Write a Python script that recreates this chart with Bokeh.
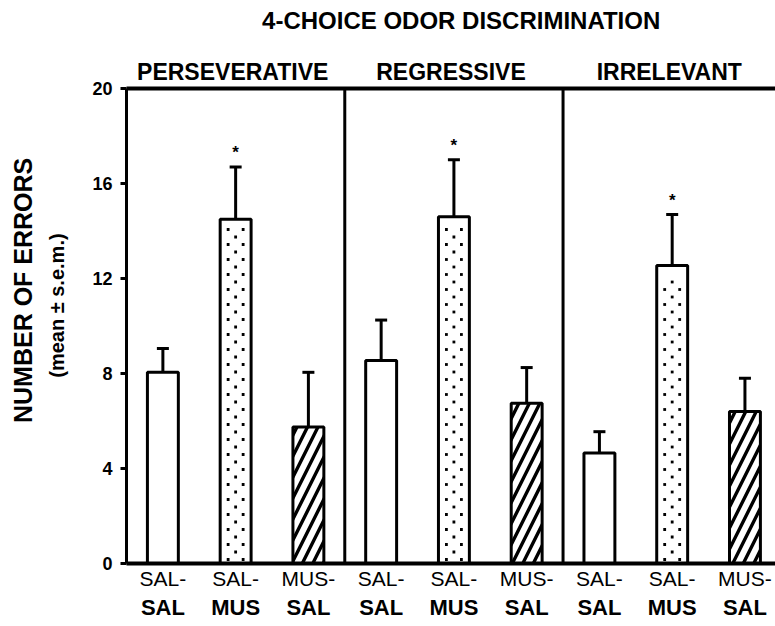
import math
from bokeh.plotting import figure
from bokeh.models import (ColumnDataSource, Range1d, LinearAxis, FixedTicker,
                          Span, Whisker, TeeHead)
from bokeh.embed import file_html
from bokeh.resources import INLINE
from bokeh.core.properties import value

# ---------------- data ----------------
title_text = "4-CHOICE ODOR DISCRIMINATION"
panels = ["PERSEVERATIVE", "REGRESSIVE", "IRRELEVANT"]
groups_top = ["SAL-", "SAL-", "MUS-"]
groups_bottom = ["SAL", "MUS", "SAL"]
perseverative_mean = [8.05, 14.5, 5.75]
perseverative_sem = [1.0, 2.2, 2.3]
regressive_mean = [8.55, 14.6, 6.75]
regressive_sem = [1.7, 2.4, 1.5]
irrelevant_mean = [4.65, 12.55, 6.4]
irrelevant_sem = [0.9, 2.15, 1.4]
significant = [False, True, False]
y_ticks = [0, 4, 8, 12, 16, 20]
y_label = "NUMBER OF ERRORS"
y_sublabel = "(mean \u00b1 s.e.m.)"

means = [perseverative_mean, regressive_mean, irrelevant_mean]
sems = [perseverative_sem, regressive_sem, irrelevant_sem]

FONT = "Liberation Sans"
n_groups = len(groups_top)

group_src = []
all_x, top_labels, bottom_labels = [], [], []
star_x, star_y = [], []
wx, wu, wl = [], [], []
for g in range(n_groups):
    xs, tops = [], []
    for pi in range(len(panels)):
        x = pi * n_groups + g + 0.5
        m = means[pi][g]
        s = sems[pi][g]
        xs.append(x)
        tops.append(m)
        wx.append(x); wu.append(m + s); wl.append(m - s)
        if significant[g]:
            star_x.append(x); star_y.append(m + s + 0.2)
    group_src.append(ColumnDataSource(dict(x=xs, top=tops)))
for pi in range(len(panels)):
    for g in range(n_groups):
        all_x.append(pi * n_groups + g + 0.5)
        top_labels.append(groups_top[g])
        bottom_labels.append(groups_bottom[g])
panel_centers = [pi * n_groups + n_groups / 2 - 0.04 for pi in range(len(panels))]

X_MAX, Y_MAX = 8.92, 20
FRAME_W, FRAME_H = 649, 475

p = figure(frame_width=FRAME_W, frame_height=FRAME_H,
           x_range=Range1d(0, X_MAX), y_range=Range1d(0, Y_MAX),
           output_backend="svg", toolbar_location=None,
           min_border_left=126, min_border_top=88, min_border_right=0,
           min_border_bottom=10)
p.title = None
p.outline_line_color = None
p.grid.visible = False
p.background_fill_color = "white"
p.border_fill_color = "white"

bar_w = 0.425
styles = [dict(), dict(),
          dict(hatch_pattern="right_diagonal_line", hatch_scale=21, hatch_weight=3.4,
               hatch_color="black")]
for g in range(n_groups):
    p.vbar(x="x", top="top", width=bar_w, bottom=0, source=group_src[g],
           fill_color="white", line_color="black", line_width=3, **styles[g])

# stippled texture for the SAL-MUS bars (staggered small dots, 7.5 px apart)
ppx, ppy = FRAME_W / X_MAX, FRAME_H / Y_MAX
step = 7.5
dot_x, dot_y = [], []
for bx, btop in zip(group_src[1].data["x"], group_src[1].data["top"]):
    k = 0
    yy = 4.0 / ppy
    while yy < btop - 10.0 / ppy:
        offs = [-step, step] if k % 2 == 0 else [0.0]
        for o in offs:
            dot_x.append(bx + o / ppx)
            dot_y.append(yy)
        yy += step / ppy
        k += 1
p.scatter(dot_x, dot_y, marker="square", size=2.8, fill_color="black",
          line_color=None)

wsrc = ColumnDataSource(dict(x=wx, upper=wu, lower=wl))
p.add_layout(Whisker(source=wsrc, base="x", upper="upper", lower="lower",
                     line_width=3, line_color="black",
                     upper_head=TeeHead(size=12, line_width=3, line_color="black"),
                     lower_head=TeeHead(size=12, line_width=3, line_color="black")))

p.text(x=star_x, y=star_y, text=["*"] * len(star_x), text_align="center",
       text_baseline="bottom", text_font=value(FONT), text_font_size="17px",
       text_font_style="bold", text_color="black")

for pi in range(1, len(panels)):
    p.add_layout(Span(location=pi * n_groups, dimension="height", line_width=3,
                      line_color="black"))


def label_axis(cls_kwargs, ticks, labels, size, bold, standoff, orientation=None):
    ax = LinearAxis(ticker=FixedTicker(ticks=ticks),
                    major_label_overrides={t: s for t, s in zip(ticks, labels)},
                    **cls_kwargs)
    ax.axis_line_color = None
    ax.major_tick_line_color = None
    ax.minor_tick_line_color = None
    ax.major_tick_out = 0
    ax.major_tick_in = 0
    ax.major_label_text_font = FONT
    ax.major_label_text_color = "black"
    ax.major_label_text_font_style = "bold" if bold else "normal"
    ax.major_label_text_font_size = size
    ax.major_label_standoff = standoff
    if orientation is not None:
        ax.major_label_orientation = orientation
    return ax


# y axis
ya = p.yaxis[0]
ya.ticker = FixedTicker(ticks=y_ticks)
ya.axis_line_width = 3
ya.axis_line_color = "black"
ya.major_tick_line_width = 3
ya.major_tick_line_color = "black"
ya.major_tick_out = 6
ya.major_tick_in = 0
ya.minor_tick_line_color = None
ya.major_label_text_font = FONT
ya.major_label_text_color = "black"
ya.major_label_text_font_style = "bold"
ya.major_label_text_font_size = "18px"
ya.major_label_standoff = 8

# y axis titles (two lines, as label-only axes)
p.add_layout(label_axis({}, [10.86], [y_sublabel], "20px", True, 21, "vertical"), "left")
p.add_layout(label_axis({}, [11.5], [y_label], "25px", True, 7, "vertical"), "left")

# x axes (two lines of labels)
xa = p.xaxis[0]
xa.ticker = FixedTicker(ticks=all_x)
xa.major_label_overrides = {x: t for x, t in zip(all_x, top_labels)}
xa.axis_line_width = 4
xa.axis_line_color = "black"
xa.major_tick_out = 0
xa.major_tick_in = 0
xa.major_tick_line_color = None
xa.minor_tick_line_color = None
xa.major_label_text_font = FONT
xa.major_label_text_color = "black"
xa.major_label_text_font_size = "21px"
xa.major_label_standoff = 3

p.add_layout(label_axis({}, all_x, bottom_labels, "22px", True, 2), "below")

# top: panel headings axis (its line is the top border), then the title
head = label_axis({}, panel_centers, panels, "23px", True, 4)
head.axis_line_color = "black"
head.axis_line_width = 4
p.add_layout(head, "above")
p.add_layout(label_axis({}, [4.6], [title_text], "24px", True, 22), "above")

open("out.html", "w").write(file_html(p, INLINE))
